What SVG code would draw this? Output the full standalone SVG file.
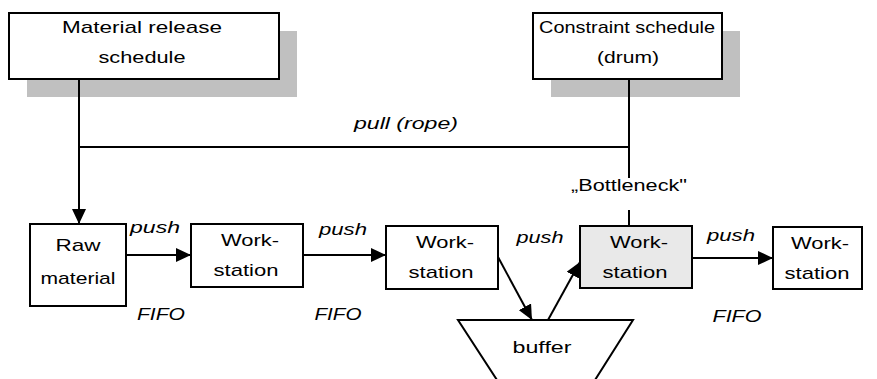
<svg xmlns="http://www.w3.org/2000/svg" width="877" height="379" viewBox="0 0 877 379">
<defs>
<style>
.box{fill:#fff;stroke:#000;stroke-width:2}
.shadow{fill:#c0c0c0}
.hl{fill:#e9e9e9;stroke:#000;stroke-width:2}
.t{font-family:"Liberation Sans",Arial,sans-serif;font-size:17px;fill:#000;text-anchor:middle}
.i{font-family:"Liberation Sans",Arial,sans-serif;font-size:17px;font-style:italic;fill:#000;text-anchor:middle}
.ln{fill:none;stroke:#000;stroke-width:2}
</style>
<marker id="ah" viewBox="0 0 15 14" refX="15" refY="7" markerWidth="15" markerHeight="14" markerUnits="userSpaceOnUse" orient="auto">
<path d="M0,0 L15,7 L0,14 Z" fill="#000"/>
</marker>
</defs>
<rect width="877" height="379" fill="#fff"/>

<g id="material-release">
<rect class="shadow" x="27" y="31" width="270" height="66"/>
<rect class="box" x="9" y="13" width="270" height="66"/>
<text class="t" x="142" y="33" textLength="160" lengthAdjust="spacingAndGlyphs">Material release</text>
<text class="t" x="142" y="63" textLength="87" lengthAdjust="spacingAndGlyphs">schedule</text>
</g>

<g id="constraint-schedule">
<rect class="shadow" x="551" y="31" width="189" height="66"/>
<rect class="box" x="533" y="13" width="189" height="66"/>
<text class="t" x="627" y="33" textLength="176" lengthAdjust="spacingAndGlyphs">Constraint schedule</text>
<text class="t" x="628" y="63" textLength="62" lengthAdjust="spacingAndGlyphs">(drum)</text>
</g>

<g id="raw-material">
<rect class="box" x="30" y="224" width="96" height="82"/>
<text class="t" x="78" y="251" textLength="45" lengthAdjust="spacingAndGlyphs">Raw</text>
<text class="t" x="78" y="284" textLength="75" lengthAdjust="spacingAndGlyphs">material</text>
</g>

<g id="ws1">
<rect class="box" x="191" y="224" width="112" height="63"/>
<text class="t" x="250" y="246" textLength="58" lengthAdjust="spacingAndGlyphs">Work-</text>
<text class="t" x="246" y="276" textLength="65" lengthAdjust="spacingAndGlyphs">station</text>
</g>

<g id="ws2">
<rect class="box" x="386" y="226" width="112" height="63"/>
<text class="t" x="445" y="248" textLength="58" lengthAdjust="spacingAndGlyphs">Work-</text>
<text class="t" x="441" y="278" textLength="65" lengthAdjust="spacingAndGlyphs">station</text>
</g>

<g id="bottleneck">
<rect class="hl" x="580" y="226" width="112" height="62"/>
<text class="t" x="639" y="248" textLength="58" lengthAdjust="spacingAndGlyphs">Work-</text>
<text class="t" x="635" y="278" textLength="65" lengthAdjust="spacingAndGlyphs">station</text>
<text class="t" x="629" y="191" textLength="116" lengthAdjust="spacingAndGlyphs">„Bottleneck"</text>
</g>

<g id="ws4">
<rect class="box" x="773" y="227" width="89" height="62"/>
<text class="t" x="820" y="249" textLength="58" lengthAdjust="spacingAndGlyphs">Work-</text>
<text class="t" x="817" y="279" textLength="65" lengthAdjust="spacingAndGlyphs">station</text>
</g>

<g id="buffer">
<path class="ln" d="M497,380 L458,320 L633,320 L595,380"/>
<text class="t" x="542" y="353" textLength="59" lengthAdjust="spacingAndGlyphs">buffer</text>
</g>

<g id="connectors">
<path class="ln" d="M79,79 L79,224" marker-end="url(#ah)"/>
<path class="ln" d="M79,147 L629,147"/>
<path class="ln" d="M629,79 L629,178"/>
<path class="ln" d="M629,210 L629,226"/>
<path class="ln" d="M126,255 L191,255" marker-end="url(#ah)"/>
<path class="ln" d="M303,255 L386,255" marker-end="url(#ah)"/>
<path class="ln" d="M498,257 L532,320" marker-end="url(#ah)"/>
<path class="ln" d="M548,320 L580,262" marker-end="url(#ah)"/>
<path class="ln" d="M692,258 L773,258" marker-end="url(#ah)"/>
</g>

<g id="labels">
<text class="i" x="406" y="129" textLength="104" lengthAdjust="spacingAndGlyphs">pull (rope)</text>
<text class="i" x="155" y="233" textLength="50" lengthAdjust="spacingAndGlyphs">push</text>
<text class="i" x="343" y="235" textLength="48" lengthAdjust="spacingAndGlyphs">push</text>
<text class="i" x="540" y="243" textLength="47" lengthAdjust="spacingAndGlyphs">push</text>
<text class="i" x="731" y="241" textLength="48" lengthAdjust="spacingAndGlyphs">push</text>
<text class="i" x="161" y="320" textLength="48" lengthAdjust="spacingAndGlyphs">FIFO</text>
<text class="i" x="338" y="320" textLength="47" lengthAdjust="spacingAndGlyphs">FIFO</text>
<text class="i" x="737" y="322" textLength="49" lengthAdjust="spacingAndGlyphs">FIFO</text>
</g>
</svg>
